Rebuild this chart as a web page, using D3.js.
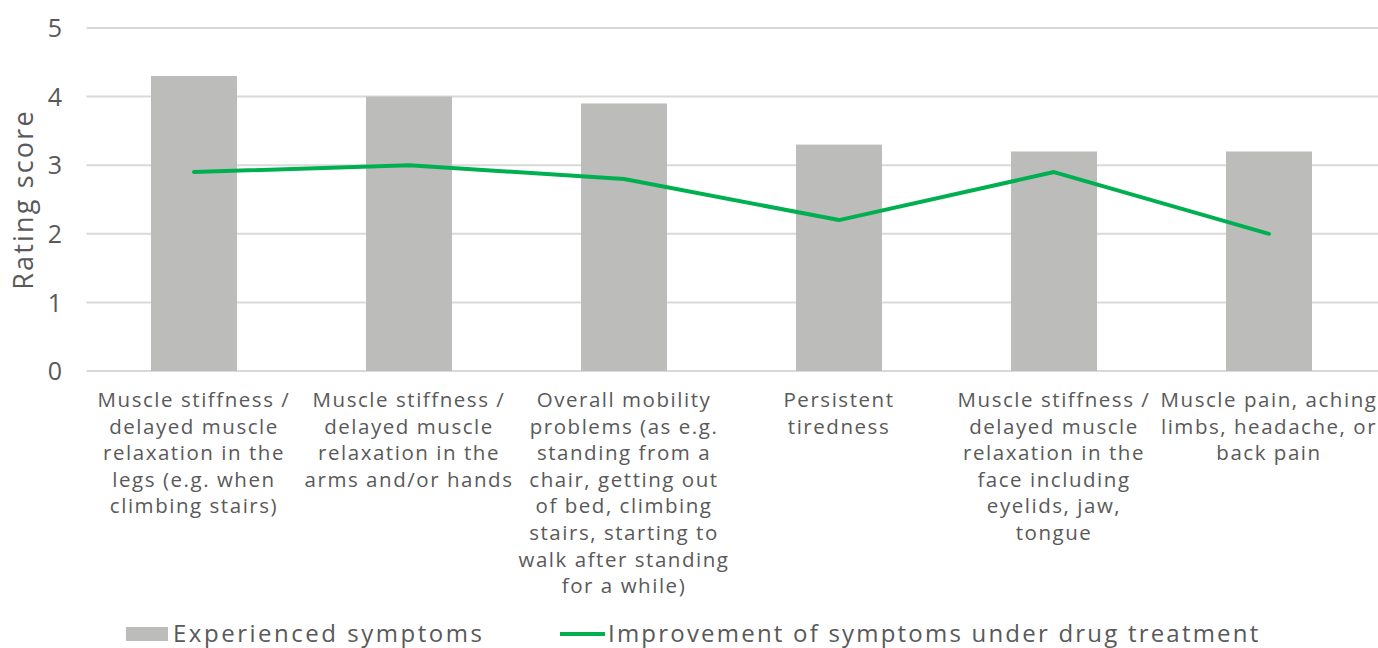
<!DOCTYPE html>
<html>
<head>
<meta charset="utf-8">
<script src="https://cdn.jsdelivr.net/npm/d3@7"></script>
<style>
  body { margin: 0; background: #fff; }
  svg text { font-family: "Open Sans", "Lato", sans-serif; fill: #595959; }
</style>
</head>
<body>
<div id="chart"></div>
<script>
// chart data
var categories = [
	["Muscle stiffness /", "delayed muscle", "relaxation in the", "legs (e.g. when", "climbing stairs)"],
	["Muscle stiffness /", "delayed muscle", "relaxation in the", "arms and/or hands"],
	["Overall mobility", "problems (as e.g.", "standing from a", "chair, getting out", "of bed, climbing", "stairs, starting to", "walk after standing", "for a while)"],
	["Persistent", "tiredness"],
	["Muscle stiffness /", "delayed muscle", "relaxation in the", "face including", "eyelids, jaw,", "tongue"],
	["Muscle pain, aching", "limbs, headache, or", "back pain"]
];
var experienced = [4.3, 4.0, 3.9, 3.3, 3.2, 3.2];
var improvement = [2.9, 3.0, 2.8, 2.2, 2.9, 2.0];
var yTicks = [0, 1, 2, 3, 4, 5];
var seriesNames = ["Experienced symptoms", "Improvement of symptoms under drug treatment"];

var width = 1378, height = 648;
var margin = { top: 28, left: 86.5, right: 1.5, bottom: 277 };

var svg = d3.select('#chart')
			.append('svg')
			.attr('width', width)
			.attr('height', height);

var idx = d3.range(categories.length);

var x = d3.scaleBand()
		  .domain(idx)
		  .range([margin.left, width - margin.right])
		  .paddingInner(0.6)
		  .paddingOuter(0.3);

var y = d3.scaleLinear()
		  .domain([0, 5])
		  .range([height - margin.bottom, margin.top]);

// gridlines
svg.append('g')
   .selectAll('line')
   .data(yTicks)
   .enter()
   .append('line')
   .attr('x1', margin.left)
   .attr('x2', width)
   .attr('y1', function(d) { return y(d); })
   .attr('y2', function(d) { return y(d); })
   .attr('stroke', '#d9d9d9')
   .attr('stroke-width', 2);

// y axis labels
var yAxis = d3.axisLeft(y).tickValues(yTicks).tickFormat(d3.format('d')).tickSize(0).tickPadding(0);
var yg = svg.append('g')
			.attr('transform', 'translate(62,0)')
			.call(yAxis);
yg.select('.domain').remove();
yg.selectAll('text')
  .style('font-size', '25px')
  .attr('dy', '0.35em');

// axis title
svg.append('text')
   .attr('transform', 'translate(33,' + y(2.5) + ') rotate(-90)')
   .attr('text-anchor', 'middle')
   .style('font-size', '27px')
   .style('letter-spacing', '0.08em')
   .text('Rating score');

// bars
svg.append('g')
   .selectAll('rect')
   .data(experienced)
   .enter()
   .append('rect')
   .attr('x', function(d, i) { return x(i); })
   .attr('y', function(d) { return y(d); })
   .attr('width', x.bandwidth())
   .attr('height', function(d) { return y(0) - y(d); })
   .attr('fill', '#bcbcbb');

// line
var line = d3.line()
			 .x(function(d, i) { return x(i) + x.bandwidth() / 2; })
			 .y(function(d) { return y(d); });

svg.append('path')
   .datum(improvement)
   .attr('d', line)
   .attr('fill', 'none')
   .attr('stroke', '#00b050')
   .attr('stroke-width', 4)
   .attr('stroke-linecap', 'round')
   .attr('stroke-linejoin', 'round');

// category labels
var labels = svg.append('g')
				.selectAll('text')
				.data(categories)
				.enter()
				.append('text')
				.attr('text-anchor', 'middle')
				.style('font-size', '20.5px')
				.style('letter-spacing', '0.075em')
				.attr('transform', function(d, i) {
					return 'translate(' + (x(i) + x.bandwidth() / 2) + ',407)';
				});
labels.selectAll('tspan')
	  .data(function(d) { return d; })
	  .enter()
	  .append('tspan')
	  .attr('x', 0)
	  .attr('y', function(d, j) { return j * 26.6; })
	  .text(function(d) { return d; });

// legend
var lg = svg.append('g').attr('transform', 'translate(0,634)');
lg.append('rect')
  .attr('x', 126).attr('y', -7)
  .attr('width', 42).attr('height', 14)
  .attr('fill', '#bcbcbb');
lg.append('text')
  .attr('x', 173).attr('dy', '0.33em')
  .style('font-size', '24px')
  .style('letter-spacing', '0.105em')
  .text(seriesNames[0]);
lg.append('line')
  .attr('x1', 560).attr('x2', 605)
  .attr('stroke', '#00b050')
  .attr('stroke-width', 4);
lg.append('text')
  .attr('x', 608).attr('dy', '0.33em')
  .style('font-size', '24px')
  .style('letter-spacing', '0.092em')
  .text(seriesNames[1]);
</script>
</body>
</html>
